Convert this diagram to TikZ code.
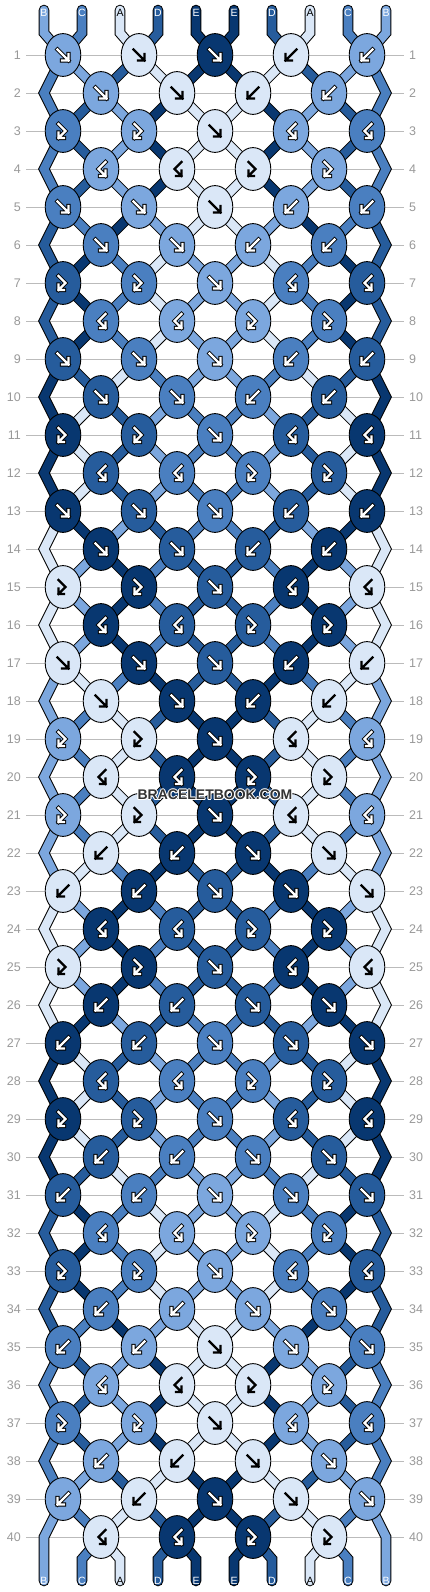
\documentclass[tikz,border=0pt]{standalone}
\usepackage{fontspec}
\setmainfont{Liberation Sans}
\usetikzlibrary{shapes.geometric}
\definecolor{colA}{HTML}{DAE7F7}
\definecolor{colB}{HTML}{7CA7DE}
\definecolor{colC}{HTML}{4A7FC0}
\definecolor{colD}{HTML}{265C9C}
\definecolor{colE}{HTML}{083770}
\colorlet{txtA}{black}
\colorlet{txtB}{white}
\colorlet{txtC}{white}
\colorlet{txtD}{white}
\colorlet{txtE}{white}
\definecolor{rowgray}{HTML}{BBBBBB}
\definecolor{numgray}{HTML}{999999}
\definecolor{wmark}{HTML}{333333}
\pgfdeclarelayer{gridlayer}
\pgfdeclarelayer{toutlayer}
\pgfdeclarelayer{tfilllayer}
\pgfsetlayers{gridlayer,toutlayer,tfilllayer,main}
\tikzset{
  knot/.style={ellipse,draw=black,line width=0.9pt,minimum width=35.6pt,minimum height=42.8pt,inner sep=0pt},
  numlabel/.style={inner sep=0pt,text=numgray,font=\fontsize{12.5}{12.5}\selectfont},
  toplabel/.style={inner sep=0pt,font=\fontsize{10.5}{10.5}\selectfont},
  wm/.style={inner sep=0pt,font=\bfseries\fontsize{14}{14}\selectfont},
  glyphline/.style={line cap=rect,line join=miter},
  threadout/.style={line width=10.6pt,black,line join=miter,line cap=round},
  threadfill/.style={line width=8.6pt,line join=miter,line cap=round}
}
\newcommand\thr[2]{%
  \ifnum\bkmode=1 \draw[threadout] #2;\fi
  \ifnum\bkmode=2 \draw[threadfill,col#1] #2;\fi}
\def\glyphf{(-5.5,-5.5)--(5.5,5.5) (5.5,-1)--(5.5,5.5)--(-1,5.5)}
\def\glyphb{(5.5,-5.5)--(-5.5,5.5) (-5.5,-1)--(-5.5,5.5)--(1,5.5)}
\def\glyphx{(-4.5,-7)--(2.5,0)--(-4.5,7) (-4.5,1.5)--(-4.5,7)--(1,7)}
\def\glyphy{(4.5,-7)--(-2.5,0)--(4.5,7) (4.5,1.5)--(4.5,7)--(-1,7)}
\def\knotf{\let\bkKC\bkLc\let\bkNL\bkRc\let\bkNR\bkLc}
\def\knotb{\let\bkKC\bkRc\let\bkNL\bkRc\let\bkNR\bkLc}
\def\knotx{\let\bkKC\bkLc\let\bkNL\bkLc\let\bkNR\bkRc}
\def\knoty{\let\bkKC\bkRc\let\bkNL\bkLc\let\bkNR\bkRc}
\def\bkstrA{A}
\def\bkrows{{f,f,f,b,b},{f,f,b,b},{x,x,f,y,y},{y,y,x,x},%
{f,f,f,b,b},{f,f,b,b},{x,x,f,y,y},{y,y,x,x},%
{f,f,f,b,b},{f,f,b,b},{x,x,f,y,y},{y,y,x,x},%
{f,f,f,b,b},{f,f,b,b},{x,x,f,y,y},{y,y,x,x},%
{f,f,f,b,b},{f,f,b,b},{x,x,f,y,y},{y,y,x,x},%
{x,x,f,y,y},{b,b,f,f},{b,b,f,f,f},{y,y,x,x},%
{x,x,f,y,y},{b,b,f,f},{b,b,f,f,f},{y,y,x,x},%
{x,x,f,y,y},{b,b,f,f},{b,b,f,f,f},{y,y,x,x},%
{x,x,f,y,y},{b,b,f,f},{b,b,f,f,f},{y,y,x,x},%
{x,x,f,y,y},{b,b,f,f},{b,b,f,f,f},{y,y,x,x}}
\newcommand\bkrun{%
\foreach \cc [count=\pp] in {B,C,A,D,E,E,D,A,C,B}{
  \expandafter\xdef\csname bkth\pp\endcsname{\cc}
  \pgfmathtruncatemacro\xp{6+38*\pp}
  \pgfmathtruncatemacro\kx{76*int((\pp+1)/2)-13}
  \coordinate (top\pp) at (\xp,10);
  \thr{\cc}{(top\pp) -- (\xp,33) -- (\kx,55)}
  \ifnum\bkmode=3 \node[toplabel,text=txt\cc] (tl\pp) at (\xp,13) {\cc};\fi
}%
\foreach \rowd [count=\rr] in \bkrows {
  \foreach \kt [count=\kk] in \rowd {
    \pgfmathtruncatemacro\odd{mod(\rr,2)}
    \ifnum\odd=1
      \pgfmathtruncatemacro\pl{2*\kk-1}
      \pgfmathtruncatemacro\kx{76*\kk-13}
    \else
      \pgfmathtruncatemacro\pl{2*\kk}
      \pgfmathtruncatemacro\kx{76*\kk+25}
    \fi
    \pgfmathtruncatemacro\pr{\pl+1}
    \pgfmathtruncatemacro\ky{55+38*(\rr-1)}
    \edef\bkLc{\csname bkth\pl\endcsname}
    \edef\bkRc{\csname bkth\pr\endcsname}
    \csname knot\kt\endcsname
    \expandafter\xdef\csname bkth\pl\endcsname{\bkNL}
    \expandafter\xdef\csname bkth\pr\endcsname{\bkNR}
    \ifnum\bkmode=3
      \node[knot,fill=col\bkKC] (K-\rr-\kk) at (\kx,\ky) {};
      \expandafter\let\expandafter\gp\csname glyph\kt\endcsname
      \ifx\bkKC\bkstrA
        \draw[black,line width=2.2pt,glyphline,shift={(\kx,\ky)}] \gp;
      \else
        \draw[black,line width=4.2pt,glyphline,shift={(\kx,\ky)}] \gp;
        \draw[white,line width=2.2pt,glyphline,shift={(\kx,\ky)}] \gp;
      \fi
    \fi
    % left output
    \ifnum\pl=1
      \ifnum\rr<39
        \thr{\bkNL}{(K-\rr-\kk.center) -- (44,\ky+38) -- (\kx,\ky+76)}
      \else
        \thr{\bkNL}{(K-\rr-\kk.center) -- (44,1537) -- (44,1581)}
        \ifnum\bkmode=3 \node[toplabel,text=txt\bkNL] (bl1) at (44,1581) {\bkNL};\fi
      \fi
    \else
      \ifnum\rr<40
        \thr{\bkNL}{(K-\rr-\kk.center) -- (\kx-38,\ky+38)}
      \else
        \thr{\bkNL}{(K-\rr-\kk.center) -- (\kx-19,1559) -- (\kx-19,1581)}
        \ifnum\bkmode=3 \node[toplabel,text=txt\bkNL] (bl\pl) at (\kx-19,1581) {\bkNL};\fi
      \fi
    \fi
    % right output
    \ifnum\pr=10
      \ifnum\rr<39
        \thr{\bkNR}{(K-\rr-\kk.center) -- (386,\ky+38) -- (\kx,\ky+76)}
      \else
        \thr{\bkNR}{(K-\rr-\kk.center) -- (386,1537) -- (386,1581)}
        \ifnum\bkmode=3 \node[toplabel,text=txt\bkNR] (bl10) at (386,1581) {\bkNR};\fi
      \fi
    \else
      \ifnum\rr<40
        \thr{\bkNR}{(K-\rr-\kk.center) -- (\kx+38,\ky+38)}
      \else
        \thr{\bkNR}{(K-\rr-\kk.center) -- (\kx+19,1559) -- (\kx+19,1581)}
        \ifnum\bkmode=3 \node[toplabel,text=txt\bkNR] (bl\pr) at (\kx+19,1581) {\bkNR};\fi
      \fi
    \fi
  }
}}
\begin{document}
\begin{tikzpicture}[x=1pt,y=-1pt]
\useasboundingbox (0,0) rectangle (430,1592);
\begin{pgfonlayer}{gridlayer}
\fill[white] (0,0) rectangle (430,1592);
\foreach \rr in {1,...,40}{
  \pgfmathtruncatemacro\yy{55+38*(\rr-1)}
  \draw[rowgray,line width=0.9pt] (26,\yy) -- (404,\yy);
}
\end{pgfonlayer}
\foreach \rr in {1,...,40}{
  \pgfmathtruncatemacro\yy{55+38*(\rr-1)}
  \node[numlabel,anchor=east] (ln\rr) at (21,\yy) {\rr};
  \node[numlabel,anchor=west] (rn\rr) at (409,\yy) {\rr};
}
\def\bkmode{3}\bkrun
\begin{pgfonlayer}{toutlayer}\def\bkmode{1}\bkrun\end{pgfonlayer}
\begin{pgfonlayer}{tfilllayer}\def\bkmode{2}\bkrun\end{pgfonlayer}
% watermark
\foreach \dx/\dy [count=\ii] in {1/0,-1/0,0/1,0/-1,0.7/0.7,-0.7/0.7,0.7/-0.7,-0.7/-0.7}
  \node[wm,text=white] (wmh\ii) at (215+\dx,795+\dy) {BRACELETBOOK.COM};
\node[wm,text=wmark] (wmk) at (215,795) {BRACELETBOOK.COM};
\end{tikzpicture}
\end{document}
